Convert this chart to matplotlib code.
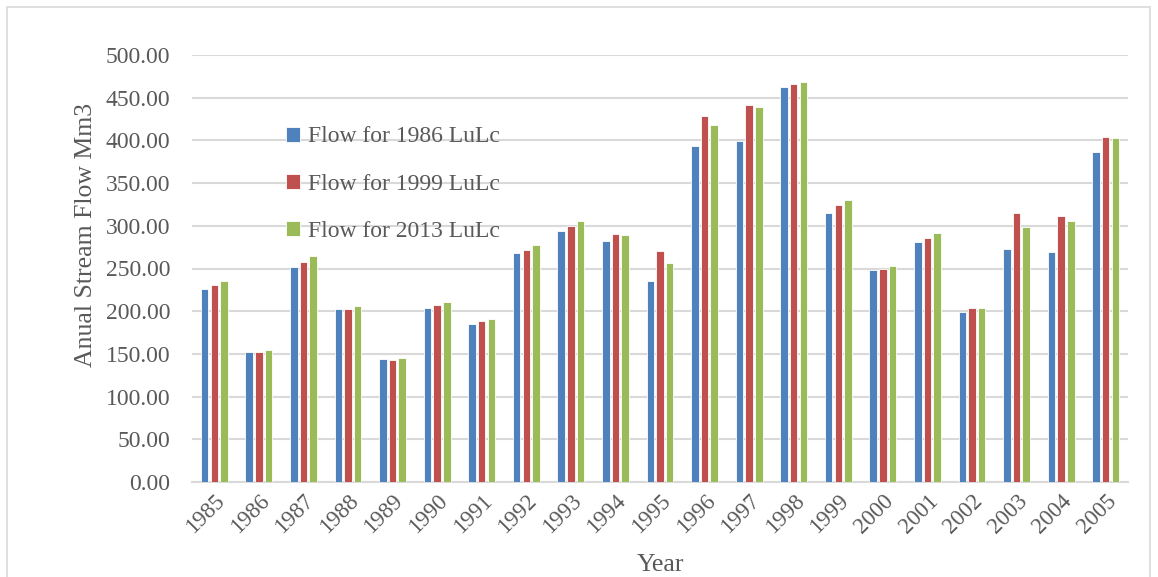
import numpy as np
import matplotlib
matplotlib.use("Agg")
import matplotlib.pyplot as plt
from matplotlib.patches import Rectangle

plt.rcParams['font.family'] = ['Liberation Serif', 'DejaVu Serif']

years = [str(y) for y in range(1985, 2006)]
flow_1986 = [226.0, 152.0, 251.4, 202.2, 143.6, 203.7, 185.4, 267.8, 293.5, 282.6, 235.4,
             393.4, 399.6, 462.1, 315.4, 248.2, 281.4, 199.4, 273.2, 269.3, 386.0]
flow_1999 = [230.3, 152.0, 257.6, 203.0, 142.5, 207.6, 188.1, 271.3, 299.4, 290.4, 270.1,
             428.9, 441.8, 465.6, 324.0, 249.4, 285.7, 203.7, 314.6, 311.8, 404.0]
flow_2013 = [235.4, 154.2, 264.2, 206.5, 145.2, 211.1, 191.3, 277.5, 305.6, 289.6, 256.4,
             418.0, 439.1, 468.7, 329.8, 252.9, 291.9, 203.7, 298.2, 305.6, 402.5]
labels = ['Flow for 1986 LuLc', 'Flow for 1999 LuLc', 'Flow for 2013 LuLc']
colors = ['#4F81BD', '#C0504D', '#9BBB59']
yticks = np.arange(0, 501, 50)

txt = '#595959'
fig = plt.figure(figsize=(11.58, 5.77), dpi=100)
fig.patches.append(Rectangle((7 / 1158, -0.05), 1143 / 1158, 1.05 - 7 / 577,
                             transform=fig.transFigure, fill=False,
                             edgecolor='#D9D9D9', linewidth=1.2))
ax = fig.add_axes([192 / 1158, 1 - 482 / 577, 936 / 1158, 427 / 577])

x = np.arange(len(years))
w = 0.168
step = 0.217
for i, (vals, lab, c) in enumerate(zip([flow_1986, flow_1999, flow_2013], labels, colors)):
    ax.bar(x + (i - 1) * step, vals, width=w, color=c, edgecolor='white',
           linewidth=0.6, label=lab, zorder=3)

ax.set_xlim(-0.5, len(years) - 0.5)
ax.set_ylim(0, 500)
ax.set_yticks(yticks)
ax.set_yticklabels([f'{v:.2f}' for v in yticks], fontsize=17, color=txt)
ax.set_xticks(x)
ax.set_xticklabels(years, fontsize=16.5, color=txt, rotation=45,
                   ha='right', va='top', rotation_mode='anchor')
ax.tick_params(axis='y', length=0, pad=15.5)
ax.tick_params(axis='x', length=0, pad=6)
ax.grid(axis='y', color='#D9D9D9', linewidth=1.5, zorder=0)
for s in ['top', 'right', 'left']:
    ax.spines[s].set_visible(False)
ax.spines['bottom'].set_color('#D9D9D9')
ax.spines['bottom'].set_linewidth(1.5)

ax.set_ylabel('Anual Stream Flow Mm3', fontsize=18.5, color=txt)
ax.yaxis.set_label_coords(-0.101, 0.578)
ax.set_xlabel('Year', fontsize=18.5, color=txt)
ax.xaxis.set_label_coords(0.5, -0.168)

leg = ax.legend(loc='upper left', bbox_to_anchor=(0.09, 0.855), frameon=False,
                fontsize=17, handlelength=0.6, handleheight=0.6,
                handletextpad=0.35, labelspacing=1.12, borderaxespad=0)
for t in leg.get_texts():
    t.set_color(txt)

fig.savefig('out.png', dpi=100)
